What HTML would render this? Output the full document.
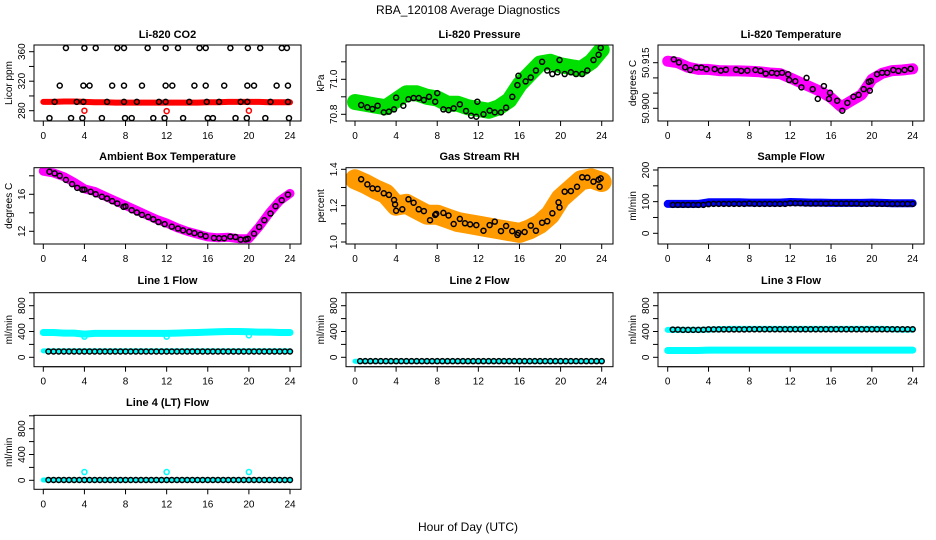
<!DOCTYPE html>
<html><head><meta charset="utf-8"><style>
html,body{margin:0;padding:0;background:#fff;}
svg{display:block;font-family:"Liberation Sans",Arial,sans-serif;}
</style></head><body>
<svg id="chart" width="936" height="540" viewBox="0 0 936 540" xmlns="http://www.w3.org/2000/svg">
<text x="468" y="14" font-size="12" text-anchor="middle">RBA_120108  Average Diagnostics</text>
<text x="468" y="531" font-size="12" text-anchor="middle">Hour of Day (UTC)</text>
</svg>
<script>
// ---- data ----
const bandHours = [0,1,2,3,4,5,6,7,8,9,10,11,12,13,14,15,16,17,18,19,20,21,22,23,24];
const flowHours = [0.5,1,1.5,2,2.5,3,3.5,4,4.5,5,5.5,6,6.5,7,7.5,8,8.5,9,9.5,10,10.5,11,11.5,12,12.5,13,13.5,14,14.5,15,15.5,16,16.5,17,17.5,18,18.5,19,19.5,20,20.5,21,21.5,22,22.5,23,23.5,24];

const co2Hours = [2.2,4.0,5.1,7.2,7.85,10.15,11.9,13.1,15.2,15.8,18.2,19.9,21.1,23.2,23.7,
 1.6,3.9,4.5,6.7,7.85,9.6,11.9,12.55,14.7,15.8,17.6,19.85,20.5,22.7,23.8,
 1.1,3.25,3.9,6.2,7.85,9.1,11.25,11.9,14.2,15.9,17.1,19.2,19.85,22.1,23.8,
 0.6,2.7,3.8,5.7,7.95,8.6,10.7,11.8,13.6,16,16.5,18.7,19.8,21.6,23.9];
const co2Values = [365,365,365,365,365,365,365,365,365,365,365,365,365,365,365,
 314,314,314,314,314,314,314,314,314,314,314,314,314,314,314,
 292,292,292,292,292,292,292,292,292,292,292,292,292,292,292,
 270,270,270,270,270,270,270,270,270,270,270,270,270,270,270];
const co2Band = [292,292,292.5,292.5,292,291.5,291.5,291,291,291,291,291,291,291,291,291,291.5,291.5,292,292,292,292,291.5,291.5,291.5];
const co2RedHours = [4,12,20];
const co2RedValues = [280,279.5,280];

const presHours = [0.6,1.2,1.7,2.2,2.8,3.3,3.8,4.0,4.7,5.2,5.7,6.2,6.7,7.2,7.8,8.0,8.6,9.1,9.6,10.2,10.8,11.3,11.8,11.9,12.5,13.1,13.6,14.2,14.7,15.3,15.8,15.9,16.6,17.1,17.6,18.2,18.7,19.2,19.7,19.9,20.4,21,21.5,22.1,22.6,23.2,23.7,23.9];
const presValues = [70.853,70.84,70.83,70.849,70.811,70.815,70.828,70.895,70.849,70.886,70.893,70.893,70.882,70.9,70.872,70.921,70.828,70.824,70.834,70.857,70.819,70.792,70.786,70.872,70.8,70.821,70.811,70.811,70.838,70.9,70.967,71.02,70.988,71.01,71.05,71.1,71.05,71.03,71.04,71.11,71.03,71.04,71.03,71.03,71.05,71.11,71.14,71.18];
const presBand = [70.87,70.86,70.85,70.84,70.88,70.92,70.92,70.9,70.89,70.86,70.86,70.84,70.83,70.82,70.84,70.88,70.97,71.03,71.09,71.1,71.08,71.07,71.06,71.1,71.17];

const tempHours = [0.6,1.1,1.7,2.2,2.8,3.3,3.8,4.6,5.2,5.7,6.7,7.2,7.8,8.6,9.1,9.6,10.2,10.7,11.2,11.8,11.9,12.5,13.1,13.6,14.2,14.7,15.3,15.8,15.9,16.6,17.1,17.6,18.2,18.7,19.2,19.7,19.8,19.9,20.5,21,21.5,22.1,22.6,23.2,23.8];
const tempValues = [50.9161,50.9151,50.9135,50.9126,50.9134,50.9134,50.9129,50.9129,50.9124,50.9127,50.9127,50.9123,50.9124,50.9126,50.9123,50.9114,50.9117,50.9115,50.9117,50.9112,50.9093,50.9089,50.9069,50.91,50.9063,50.9031,50.9073,50.9031,50.9051,50.9025,50.8992,50.9018,50.9038,50.9044,50.9063,50.9087,50.9058,50.909,50.9112,50.9117,50.9117,50.9126,50.9123,50.9126,50.913];
const tempBand = [50.9155,50.915,50.9135,50.9128,50.9128,50.9124,50.9123,50.9123,50.9122,50.912,50.9116,50.9114,50.91,50.9085,50.907,50.9055,50.9035,50.9005,50.9025,50.9045,50.9095,50.9115,50.9124,50.9126,50.913];

const ambHours = [0.6,1.1,1.6,2.2,2.8,3.3,3.8,4.0,4.6,5.1,5.7,6.2,6.7,7.2,7.8,8.0,8.6,9.1,9.6,10.2,10.7,11.2,11.8,12.5,13.1,13.6,14.2,14.7,15.3,15.8,16.6,17.1,17.6,18.2,18.7,19.2,19.7,19.9,20.5,21,21.5,22.1,22.6,23.2,23.8];
const ambValues = [18.44,18.26,18.0,17.56,17.1,16.7,16.5,16.5,16.27,16.0,15.73,15.55,15.26,15.0,14.64,14.7,14.28,14.03,13.78,13.56,13.3,13.0,12.77,12.5,12.3,12.1,11.95,11.8,11.64,11.46,11.28,11.25,11.25,11.43,11.38,11.1,11.13,11.2,11.75,12.47,13.2,13.92,14.71,15.36,15.97];
const ambBand = [18.5,18.3,17.9,17.3,16.6,16.3,15.8,15.3,14.8,14.3,13.8,13.3,12.9,12.4,12.0,11.7,11.4,11.3,11.35,11.2,11.2,12.5,14.0,15.3,16.1];

const rhHours = [0.6,1.2,1.7,2.2,2.8,3.3,3.8,3.9,4.0,4.6,5.2,5.7,6.2,6.7,7.3,7.8,7.9,8.6,9.1,9.6,10.2,10.7,11.2,11.8,12.5,13.1,13.6,14.2,14.7,15.3,15.8,15.9,16.5,17.1,17.6,18.2,18.7,19.2,19.8,19.9,20.4,21,21.6,22.1,22.6,23.2,23.7,23.8,23.9];
const rhValues = [1.345,1.317,1.295,1.292,1.268,1.259,1.231,1.207,1.172,1.18,1.235,1.216,1.18,1.17,1.12,1.149,1.155,1.16,1.146,1.099,1.127,1.103,1.097,1.093,1.062,1.093,1.112,1.06,1.088,1.06,1.039,1.05,1.055,1.09,1.062,1.106,1.114,1.158,1.218,1.19,1.277,1.28,1.304,1.356,1.354,1.332,1.343,1.304,1.35];
const rhBand = [1.345,1.32,1.29,1.265,1.2,1.21,1.18,1.15,1.15,1.13,1.11,1.1,1.09,1.08,1.07,1.06,1.05,1.07,1.1,1.15,1.24,1.29,1.34,1.35,1.33];

const sampleValues = [90,90,90,90,90,90,90,92,93,93,93,93,93,93,93,94,93,93,93,93,93,93,93,95,95,95,94,94,94,94,94,95,94,94,94,94,94,93,93,94,93,93,93,93,93,93,93,93];
const sampleBand = [93,93,93,93,98,98,98,98,97,97,97,97,99,98,97,97,96,96,96,96,97,96,95,95,95];

const line1Black = [90,90,90,90,90,90,90,90,90,90,90,90,90,90,90,90,90,90,90,90,90,90,90,90,90,90,90,90,90,90,90,90,90,90,90,90,90,90,90,90,90,90,90,90,90,90,90,90];
const line1CyanTop = [385,385,375,375,360,370,370,370,370,370,370,370,370,375,380,385,390,395,400,400,395,390,390,385,385];
const line1CyanLow = [100,100,100,100,100,100,100,100,100,100,100,100,100,100,100,100,100,100,100,100,100,100,100,100,100];
const line1DipHours = [4,12,20];
const line1DipValues = [320,320,340];

const line2Black = [-60,-60,-60,-60,-60,-60,-60,-60,-60,-60,-60,-60,-60,-60,-60,-60,-60,-60,-60,-60,-60,-60,-60,-60,-60,-60,-60,-60,-60,-60,-60,-60,-60,-60,-60,-60,-60,-60,-60,-60,-60,-60,-60,-60,-60,-60,-60,-60];
const line2Cyan = [-60,-60,-60,-60,-60,-60,-60,-60,-60,-60,-60,-60,-60,-60,-60,-60,-60,-60,-60,-60,-60,-60,-60,-60,-60];

const line3Black = [430,430,425,425,425,425,428,432,432,432,432,432,432,432,432,434,434,434,434,434,434,434,434,434,434,434,434,434,434,434,434,434,434,434,434,434,434,434,434,434,434,434,434,434,434,434,434,434];
const line3CyanTop = [425,425,425,425,430,435,440,440,440,440,440,440,440,440,440,440,440,440,440,440,440,440,435,430,430];
const line3CyanLow = [105,105,105,105,112,112,112,112,112,112,112,112,112,112,112,112,112,112,112,112,112,112,112,112,112];

const line4Black = [5,5,5,5,5,5,5,5,5,5,5,5,5,5,5,5,5,5,5,5,5,5,5,5,5,5,5,5,5,5,5,5,5,5,5,5,5,5,5,5,5,5,5,5,5,5,5,5];
const line4Cyan = [5,5,5,5,5,5,5,5,5,5,5,5,5,5,5,5,5,5,5,5,5,5,5,5,5];
const line4SpikeHours = [4,12,20];
const line4SpikeValues = [128,128,128];

const xTicks = [0,4,8,12,16,20,24];

// ---- layout ----
const svg = document.getElementById('chart');
const NS = 'http://www.w3.org/2000/svg';
const cols = [{bx0:34,bx1:301,x0:43.3,x24:290,yt:8},{bx0:346,bx1:613,x0:355,x24:601.7,yt:320},{bx0:658,bx1:924,x0:667.7,x24:912.7,yt:632}];
const rows = [{by0:45,by1:121,ty:38},{by0:167.7,by1:244,ty:160},{by0:292.7,by1:366.7,ty:284},{by0:415.3,by1:489.3,ty:406}];

function mk(tag, attrs, parent){
  const e = document.createElementNS(NS, tag);
  for (const k in attrs) e.setAttribute(k, attrs[k]);
  (parent||svg).appendChild(e);
  return e;
}

function panel(name, title, ytitle, c, r, v1, p1, v2, p2, ticks, labels, dec){
  const C = cols[c], R = rows[r];
  const g = mk('g', {});
  
  
  const xs = t => C.x0 + (C.x24 - C.x0) * t / 24;
  const ys = v => p1 + (v - v1) * (p2 - p1) / (v2 - v1);
  const t = mk('text', {x:(C.bx0+C.bx1)/2, y:R.ty, 'font-size':11, 'font-weight':'bold', 'text-anchor':'middle'}, g);
  t.textContent = title;
  
  
  const yt = mk('text', {x:0, y:0, 'font-size':10, 'text-anchor':'middle', transform:`translate(${C.yt+4},${(R.by0+R.by1)/2}) rotate(-90)`}, g);
  yt.textContent = ytitle;
  
  
  // x axis
  const xa = mk('g', {}, g);
  
  
  mk('line', {x1:xs(0), x2:xs(24), y1:R.by1, y2:R.by1, stroke:'#000'}, xa);
  xTicks.forEach(v => {
    mk('line', {x1:xs(v), x2:xs(v), y1:R.by1, y2:R.by1+5, stroke:'#000'}, xa);
    const l = mk('text', {x:xs(v), y:R.by1+18, 'font-size':10, 'text-anchor':'middle'}, xa);
    l.textContent = v;
    
    
  });
  // y axis
  const ya = mk('g', {}, g);
  
  
  mk('line', {x1:C.bx0, x2:C.bx0, y1:ys(ticks[0]), y2:ys(ticks[ticks.length-1]), stroke:'#000'}, ya);
  ticks.forEach(v => mk('line', {x1:C.bx0-5, x2:C.bx0, y1:ys(v), y2:ys(v), stroke:'#000'}, ya));
  labels.forEach(v => {
    const l = mk('text', {x:0, y:0, 'font-size':10, 'text-anchor':'middle', transform:`translate(${C.bx0-9},${ys(v)}) rotate(-90)`}, ya);
    l.textContent = v.toFixed(dec);
    
    
  });
  const clip = 'clip-' + name;
  const cp = mk('clipPath', {id:clip}, g);
  mk('rect', {x:C.bx0, y:R.by0, width:C.bx1-C.bx0, height:R.by1-R.by0}, cp);
  const plot = mk('g', {'clip-path':`url(#${clip})`}, g);
  
  
  const box = mk('rect', {x:C.bx0, y:R.by0, width:C.bx1-C.bx0, height:R.by1-R.by0, fill:'none', stroke:'#000'}, g);
  
  
  return {xs, ys, plot};
}

function band(P, hours, vals, color, w, nm){
  const pts = hours.map((h,i) => P.xs(h).toFixed(1) + ',' + P.ys(vals[i]).toFixed(1)).join(' ');
  const pl = mk('polyline', {points:pts, fill:'none', stroke:color, 'stroke-width':w, 'stroke-linejoin':'round', 'stroke-linecap':'round'}, P.plot);
  
  
}
function pts(P, hours, vals, color, r, nm, sw){
  hours.forEach((h,i) => {
    const c = mk('circle', {cx:P.xs(h), cy:P.ys(vals[i]), r:r, fill:'none', stroke:color, 'stroke-width':sw||1.5}, P.plot);
    
    
  });
}

let P;
P = panel('co2','Li-820 CO2','Licor ppm',0,0,280,110.7,360,51.7,[280,300,320,340,360],[280,320,360],0);
band(P, bandHours, co2Band, '#ff0000', 6, 'co2-raw-band');
pts(P, co2Hours, co2Values, '#000', 2.5, 'co2-point');
pts(P, co2RedHours, co2RedValues, '#ff0000', 2.5, 'co2-red-point');

P = panel('pressure','Li-820 Pressure','kPa',1,0,70.8,114.3,71.0,79.3,[70.8,70.9,71.0,71.1],[70.8,71.0],1);
band(P, bandHours, presBand, '#00e000', 16, 'pressure-raw-band');
pts(P, presHours, presValues, '#000', 2.5, 'pressure-point');

P = panel('temperature','Li-820 Temperature','degrees C',2,0,50.900,108.3,50.915,62.7,[50.900,50.905,50.910,50.915],[50.900,50.915],3);
band(P, bandHours, tempBand, '#ff00ff', 11, 'temperature-raw-band');
pts(P, tempHours, tempValues, '#000', 2.5, 'temperature-point');

P = panel('ambient','Ambient Box Temperature','degrees C',0,1,12,231.3,16,194.3,[12,14,16,18],[12,16],0);
band(P, bandHours, ambBand, '#ff00ff', 9, 'ambient-raw-band');
pts(P, ambHours, ambValues, '#000', 2.5, 'ambient-point');

P = panel('rh','Gas Stream RH','percent',1,1,1.0,242,1.4,169.3,[1.0,1.1,1.2,1.3,1.4],[1.0,1.2,1.4],1);
band(P, bandHours, rhBand, '#ff9a00', 20, 'rh-raw-band');
pts(P, rhHours, rhValues, '#000', 2.5, 'rh-point');

P = panel('sample-flow','Sample Flow','ml/min',2,1,0,233.3,200,170,[0,50,100,150,200],[0,100,200],0);
band(P, bandHours, sampleBand, '#0000ff', 8, 'sample-raw-band');
pts(P, flowHours, sampleValues, '#000', 2.5, 'sample-point');

P = panel('line1','Line 1 Flow','ml/min',0,2,0,357.3,800,305.7,[0,200,400,600,800,1000],[0,400,800],0);
band(P, bandHours, line1CyanTop, '#00ffff', 7, 'line1-cyan-band-high');
band(P, bandHours, line1CyanLow, '#00ffff', 5, 'line1-cyan-band-low');
pts(P, line1DipHours, line1DipValues, '#00ffff', 2.5, 'line1-cyan-point');
pts(P, flowHours, line1Black, '#000', 2.5, 'line1-point');

P = panel('line2','Line 2 Flow','ml/min',1,2,0,357.3,800,305.7,[0,200,400,600,800,1000],[0,400,800],0);
band(P, bandHours, line2Cyan, '#00ffff', 5, 'line2-cyan-band');
pts(P, flowHours, line2Black, '#000', 2.5, 'line2-point');

P = panel('line3','Line 3 Flow','ml/min',2,2,0,357.3,800,305.7,[0,200,400,600,800,1000],[0,400,800],0);
band(P, bandHours, line3CyanTop, '#00ffff', 6, 'line3-cyan-band-high');
band(P, bandHours, line3CyanLow, '#00ffff', 7, 'line3-cyan-band-low');
pts(P, flowHours, line3Black, '#000', 2.5, 'line3-point');

P = panel('line4','Line 4 (LT) Flow','ml/min',0,3,0,480.3,800,428.7,[0,200,400,600,800,1000],[0,400,800],0);
band(P, bandHours, line4Cyan, '#00ffff', 5, 'line4-cyan-band');
pts(P, line4SpikeHours, line4SpikeValues, '#00ffff', 2.5, 'line4-cyan-point');
pts(P, flowHours, line4Black, '#000', 2.5, 'line4-point');
</script>
</body></html>
